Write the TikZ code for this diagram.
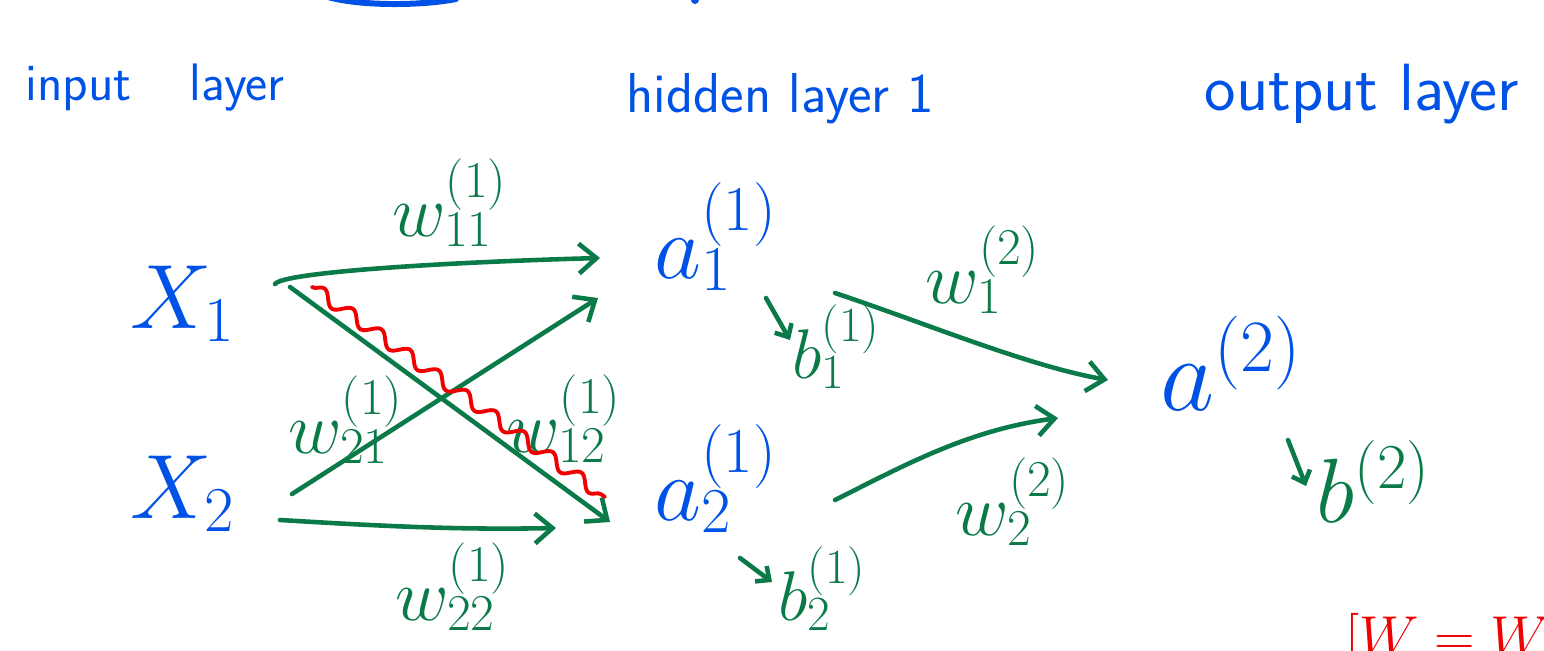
\RequirePackage{fix-cm}
\documentclass[tikz,border=0pt]{standalone}
\usetikzlibrary{arrows.meta, decorations.pathmorphing}

\definecolor{penblue}{RGB}{0,82,230}
\definecolor{pengreen}{RGB}{10,122,72}
\definecolor{penred}{RGB}{240,0,0}

\tikzset{
  pen/.style={line width=2.6pt, line cap=round, line join=round},
  wire/.style={pen, draw=pengreen, -{Straight Barb[length=10pt,width=17pt]}},
  tick/.style={pen, draw=pengreen, -{Straight Barb[length=6pt,width=11pt]}},
  layer/.style={text=penblue, font=\sffamily\fontsize{34}{40}\selectfont, anchor=base},
  unit/.style={text=penblue, font=\fontsize{52}{58}\selectfont, inner sep=0pt, anchor=base west},
  wlbl/.style={text=pengreen, font=\fontsize{42}{48}\selectfont, inner sep=0pt, anchor=base west},
  bias/.style={text=pengreen, font=\fontsize{40}{46}\selectfont, inner sep=0pt, anchor=base west},
}

\begin{document}
\begin{tikzpicture}[x=0.02cm, y=-0.02cm]
    \useasboundingbox (0,0) rectangle (1544,650);
    \clip (0,0) rectangle (1544,650);

    % layer headings
    \node[layer, font=\sffamily\fontsize{30}{36}\selectfont] (inhead) at (155,100) {input\hspace{1.1em}layer};
    \node[layer, font=\sffamily\fontsize{32}{38}\selectfont] (hidhead) at (780,112) {hidden layer 1};
    \node[layer, font=\sffamily\fontsize{38}{44}\selectfont] (outhead) at (1362,110) {output layer};

    % units
    \node[unit] (x1) at (130,328) {$X_1$};
    \node[unit] (x2) at (130,518) {$X_2$};
    \node[unit] (a11) at (654,278) {$a_1^{(1)}$};
    \node[unit] (a12) at (654,520) {$a_2^{(1)}$};
    \node[unit, font=\fontsize{60}{66}\selectfont] (a2) at (1160,410) {$a^{(2)}$};

    % biases
    \node[bias] (b11) at (792,378) {$b_1^{(1)}$};
    \node[bias] (b12) at (778,620) {$b_2^{(1)}$};
    \node[bias, font=\fontsize{52}{58}\selectfont] (b2) at (1316,522) {$b^{(2)}$};

    % weights
    \node[wlbl] (w111) at (392,236) {$w_{11}^{(1)}$};
    \node[wlbl] (w121) at (288,453) {$w_{21}^{(1)}$};
    \node[wlbl] (w112) at (506,452) {$w_{12}^{(1)}$};
    \node[wlbl] (w122) at (395,620) {$w_{22}^{(1)}$};
    \node[wlbl] (w21) at (925,303) {$w_1^{(2)}$};
    \node[wlbl] (w22) at (955,535) {$w_2^{(2)}$};

    % first layer connections
    \draw[wire] ([shift={(145,-44)}]x1.base west) .. controls +(8,-12) and +(-150,4) .. ([shift={(-54,-20)}]a11.base west);
    \draw[wire] ([shift={(162,-24)}]x2.base west) -- ([shift={(-56,20)}]a11.base west);
    \draw[wire] ([shift={(160,-41)}]x1.base west) -- ([shift={(-44,2)}]a12.base west);
    \draw[wire] ([shift={(150,2)}]x2.base west) .. controls +(100,6) and +(-100,2) .. ([shift={(-98,8)}]a12.base west);

    % crossed out weight
    \draw[pen, draw=penred, line width=2.2pt, decorate,
          decoration={snake, amplitude=3.5pt, segment length=20pt}]
        ([shift={(182,-41)}]x1.base west) -- ([shift={(-49,-23)}]a12.base west);

    % second layer connections
    \draw[wire] ([shift={(181,15)}]a11.base west) .. controls +(90,30) and +(-80,-14) .. ([shift={(-52,-30)}]a2.base west);
    \draw[wire] ([shift={(181,-20)}]a12.base west) .. controls +(70,-35) and +(-90,12) .. ([shift={(-102,8)}]a2.base west);

    % bias ticks
    \draw[tick] ([shift={(112,20)}]a11.base west) -- ([shift={(-2,-38)}]b11.base west);
    \draw[tick] ([shift={(86,38)}]a12.base west) -- ([shift={(-6,-38)}]b12.base west);
    \draw[tick] ([shift={(128,30)}]a2.base west) -- ([shift={(-10,-36)}]b2.base west);

    % note cut off at the border
    \node[text=penred, font=\fontsize{32}{36}\selectfont, inner sep=0pt, anchor=base west] (note) at (1345,655) {$[W = W$};
    \draw[pen, draw=penblue, line width=3.4pt] (328,-3) .. controls (360,6) and (420,6) .. (456,-1);
    \fill[penblue] (695,0) circle (4);
\end{tikzpicture}
\end{document}
